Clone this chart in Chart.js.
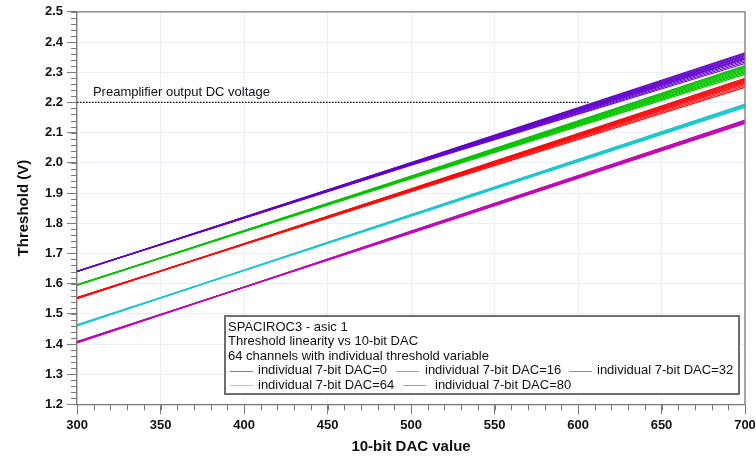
<!DOCTYPE html>
<html>
<head>
<meta charset="utf-8">
<script src="https://cdn.jsdelivr.net/npm/chart.js@4.4.1/dist/chart.umd.min.js"></script>
<style>
    html, body { margin: 0; background: #fff; }
    #wrap { width: 756px; height: 457px; }
</style>
</head>
<body>
<div id="wrap"><canvas id="chart"></canvas></div>
<script>
// 10-bit DAC values where the thresholds were read
const dacPoints = [300, 500, 700];

// Threshold (V) per channel at DAC = 300, 500, 700
const dac0Start = [1.640, 1.640, 1.640, 1.640, 1.640, 1.641, 1.641, 1.641, 1.641, 1.641, 1.641];
const dac0Mid   = [2.001, 2.000, 1.999, 1.998, 1.997, 1.997, 1.996, 1.995, 1.994, 1.993, 1.992];
const dac0End   = [2.364, 2.361, 2.358, 2.355, 2.352, 2.349, 2.346, 2.343, 2.339, 2.334, 2.329];
const dac16Start = [1.595, 1.595, 1.595, 1.595, 1.596, 1.596, 1.596, 1.596, 1.596];
const dac16Mid   = [1.956, 1.955, 1.954, 1.953, 1.952, 1.951, 1.950, 1.949, 1.947];
const dac16End   = [2.322, 2.319, 2.316, 2.313, 2.310, 2.306, 2.302, 2.298, 2.293];
const dac32Start = [1.550, 1.551, 1.551, 1.552, 1.552, 1.553, 1.553, 1.554, 1.554];
const dac32Mid   = [1.914, 1.913, 1.912, 1.911, 1.910, 1.909, 1.908, 1.906, 1.904];
const dac32End   = [2.280, 2.277, 2.274, 2.271, 2.268, 2.264, 2.260, 2.255, 2.250];
const dac64Start = [1.460, 1.461, 1.461, 1.462, 1.462, 1.463, 1.464];
const dac64Mid   = [1.829, 1.828, 1.827, 1.826, 1.825, 1.824, 1.823];
const dac64End   = [2.195, 2.193, 2.191, 2.189, 2.187, 2.185, 2.183];
const dac80Start = [1.403, 1.404, 1.404, 1.405, 1.406, 1.407, 1.408, 1.408];
const dac80Mid   = [1.774, 1.773, 1.772, 1.771, 1.770, 1.769, 1.768, 1.767];
const dac80End   = [2.142, 2.140, 2.138, 2.137, 2.135, 2.133, 2.131, 2.130];

// Preamplifier output DC level and where the marker line stops
const preampLevel = 2.2;
const preampRange = [300, 607];

// Axis ticks
const xTicks = [300, 350, 400, 450, 500, 550, 600, 650, 700];
const yTicks = [1.2, 1.3, 1.4, 1.5, 1.6, 1.7, 1.8, 1.9, 2.0, 2.1, 2.2, 2.3, 2.4, 2.5];

const headerLines = [
    'SPACIROC3 - asic 1',
    'Threshold linearity vs 10-bit DAC',
    '64 channels with individual threshold variable'
];

const groups = [
    { label: 'individual 7-bit DAC=0',  color: '#6404cc', light: '#9460e0', values: [dac0Start, dac0Mid, dac0End] },
    { label: 'individual 7-bit DAC=16', color: '#08c400', light: '#58d854', values: [dac16Start, dac16Mid, dac16End] },
    { label: 'individual 7-bit DAC=32', color: '#ff0a0a', light: '#ff6464', values: [dac32Start, dac32Mid, dac32End] },
    { label: 'individual 7-bit DAC=64', color: '#1cc8d0', light: '#6ee2e8', values: [dac64Start, dac64Mid, dac64End] },
    { label: 'individual 7-bit DAC=80', color: '#c00cb4', light: '#e070d4', values: [dac80Start, dac80Mid, dac80End] }
];

const datasets = [];
groups.forEach(g => {
    g.values[0].forEach((_, ch) => {
        datasets.push({
            label: g.label,
            data: dacPoints.map((d, k) => ({ x: d, y: g.values[k][ch] })),
            borderColor: g.color,
            borderWidth: 1.1,
            pointRadius: 0,
            fill: false
        });
    });
});
datasets.push({
    label: 'preamp',
    data: [{ x: preampRange[0], y: preampLevel }, { x: preampRange[1], y: preampLevel }],
    borderColor: '#000',
    borderWidth: 1.3,
    borderDash: [1.5, 1.5],
    pointRadius: 0,
    fill: false
});

const FONT = '"Liberation Sans", Arial, sans-serif';

// frame, minor ticks, note text and the boxed legend
const decorPlugin = {
    id: 'decor',
    afterDraw(chart) {
        const { ctx, chartArea: a, scales: { x, y } } = chart;
        ctx.save();

        // frame top/right
        ctx.strokeStyle = '#7a7a7a';
        ctx.lineWidth = 1.3;
        ctx.beginPath();
        ctx.moveTo(a.left, a.top);
        ctx.lineTo(a.right, a.top);
        ctx.lineTo(a.right, a.bottom);
        ctx.stroke();

        // minor ticks
        ctx.lineWidth = 1;
        ctx.strokeStyle = '#7a7a7a';
        ctx.beginPath();
        for (let i = 0; i <= 65; i++) {
            const py = Math.round(y.getPixelForValue(1.2 + i * 0.02)) + 0.5;
            ctx.moveTo(a.left - 6, py);
            ctx.lineTo(a.left, py);
        }
        for (let i = 0; i <= 40; i++) {
            const px = Math.round(x.getPixelForValue(300 + i * 10)) + 0.5;
            ctx.moveTo(px, a.bottom);
            ctx.lineTo(px, a.bottom + 6);
        }
        ctx.stroke();

        // note on the preamp level
        ctx.fillStyle = '#111';
        ctx.font = '13px ' + FONT;
        ctx.textBaseline = 'middle';
        ctx.textAlign = 'left';
        ctx.fillText('Preamplifier output DC voltage', x.getPixelForValue(309.5), y.getPixelForValue(preampLevel) - 10);

        // legend box
        const bx = 225, by = 316, bw = 514, bh = 78;
        ctx.fillStyle = '#fff';
        ctx.fillRect(bx, by, bw, bh);
        ctx.strokeStyle = '#6e6e6e';
        ctx.lineWidth = 2;
        ctx.strokeRect(bx, by, bw, bh);

        ctx.fillStyle = '#111';
        const rowY = [327, 341.5, 356, 370.5, 385];
        headerLines.forEach((t, i) => ctx.fillText(t, bx + 3, rowY[i]));

        const slots = [
            { row: 3, x0: 230, x1: 253, tx: 258 },
            { row: 3, x0: 396, x1: 419, tx: 425 },
            { row: 3, x0: 569, x1: 592, tx: 597 },
            { row: 4, x0: 230, x1: 253, tx: 258 },
            { row: 4, x0: 403, x1: 426, tx: 435 }
        ];
        groups.forEach((g, i) => {
            const s = slots[i];
            const ly = Math.round(rowY[s.row]) + 0.5;
            ctx.strokeStyle = g.light;
            ctx.lineWidth = 1;
            ctx.beginPath();
            ctx.moveTo(s.x0, ly);
            ctx.lineTo(s.x1, ly);
            ctx.stroke();
            ctx.fillStyle = '#111';
            ctx.fillText(g.label, s.tx, rowY[s.row]);
        });

        ctx.restore();
    }
};

new Chart(document.getElementById('chart'), {
    type: 'line',
    data: { datasets },
    options: {
        responsive: true,
        maintainAspectRatio: false,
        animation: false,
        layout: { padding: { top: 4, right: 0, left: 15, bottom: 1 } },
        plugins: {
            legend: { display: false },
            tooltip: { enabled: false }
        },
        scales: {
            x: {
                type: 'linear',
                min: xTicks[0],
                max: xTicks[xTicks.length - 1],
                afterBuildTicks: s => { s.ticks = xTicks.map(v => ({ value: v })); },
                afterFit: s => { s.paddingRight = 11; },
                ticks: {
                    autoSkip: false,
                    maxRotation: 0,
                    padding: 3,
                    color: '#111',
                    font: { family: FONT, size: 13, weight: 'bold' }
                },
                grid: { color: '#ececfa', tickColor: '#7a7a7a', tickLength: 10 },
                border: { color: '#7a7a7a', width: 1.3 },
                title: {
                    display: true,
                    text: '10-bit DAC value',
                    color: '#111',
                    padding: { top: 2, bottom: 0 },
                    font: { family: FONT, size: 15, weight: 'bold' }
                }
            },
            y: {
                min: yTicks[0],
                max: yTicks[yTicks.length - 1],
                afterBuildTicks: s => { s.ticks = yTicks.map(v => ({ value: v })); },
                ticks: {
                    autoSkip: false,
                    padding: 4,
                    color: '#111',
                    font: { family: FONT, size: 13, weight: 'bold' },
                    callback: v => Number(v).toFixed(1)
                },
                grid: { color: '#ececfa', tickColor: '#7a7a7a', tickLength: 10 },
                border: { color: '#7a7a7a', width: 1.3 },
                title: {
                    display: true,
                    text: 'Threshold (V)',
                    color: '#111',
                    padding: { top: 0, bottom: 8 },
                    font: { family: FONT, size: 15, weight: 'bold' }
                }
            }
        }
    },
    plugins: [decorPlugin]
});
</script>
</body>
</html>
